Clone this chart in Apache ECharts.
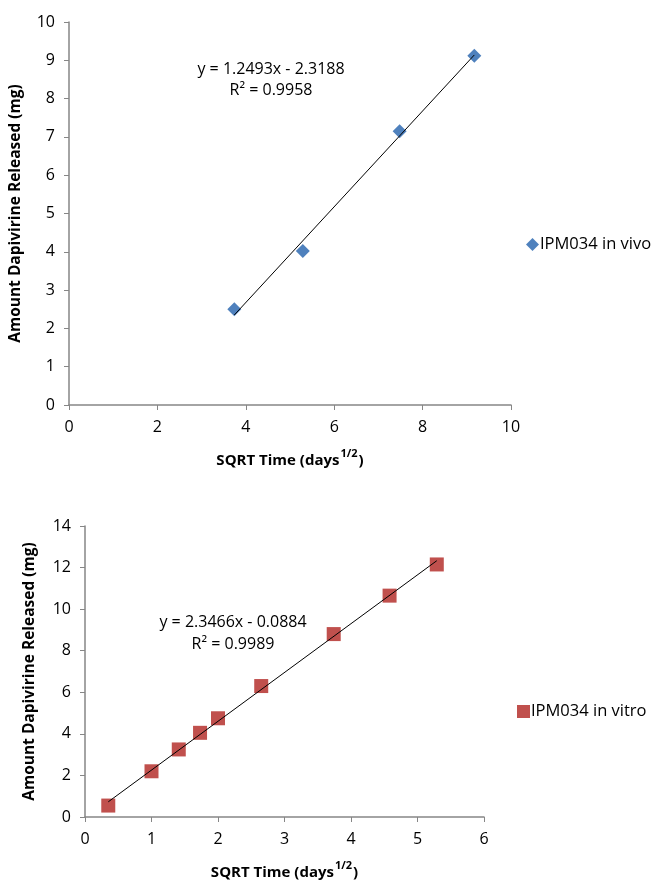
<!DOCTYPE html>
<html><head><meta charset="utf-8">
<script src="https://cdn.jsdelivr.net/npm/echarts@6/dist/echarts.min.js"></script>
<style>html,body{margin:0;padding:0;background:#fff}#c{width:651px;height:881px}</style>
</head><body><div id="c"></div>
<script>
// Top chart: in vivo
const vivoX = [3.74, 5.29, 7.48, 9.17];
const vivoY = [2.50, 4.02, 7.15, 9.12];
const vivoTrend = [[3.74, 2.35], [9.17, 9.14]];
const vivoEq = 'y = 1.2493x - 2.3188';
const vivoR2 = 'R² = 0.9958';
// Bottom chart: in vitro
const vitroX = [0.35, 1.00, 1.41, 1.73, 2.00, 2.65, 3.74, 4.58, 5.29];
const vitroY = [0.55, 2.20, 3.25, 4.05, 4.75, 6.30, 8.80, 10.65, 12.15];
const vitroTrend = [[0.35, 0.73], [5.29, 12.33]];
const vitroEq = 'y = 2.3466x - 0.0884';
const vitroR2 = 'R² = 0.9989';
const yTitle = 'Amount Dapivirine Released (mg)';
const xTitleMain = 'SQRT Time (days';
const xTitleSup = '1/2';

const FONT = 'Open Sans';
const axisLine = {lineStyle:{color:'#868686', width:1.5}};
const axisTick = {show:true, length:5, lineStyle:{color:'#868686'}};
const axisLabel = {color:'#000', fontSize:16, fontFamily:FONT};
const xName = '{b|' + xTitleMain + '}{s|' + xTitleSup + '}{b|)}';
const nameRich = {
  b:{fontWeight:'bold', fontSize:15, fontFamily:FONT, color:'#000', lineHeight:20, verticalAlign:'bottom'},
  s:{fontWeight:'bold', fontSize:11, fontFamily:FONT, color:'#000', lineHeight:20, verticalAlign:'top', padding:[0,1,2,1]}
};
const yNameStyle = {fontWeight:'bold', fontSize:15.5, fontFamily:FONT, color:'#000'};

const chart = echarts.init(document.getElementById('c'), null, {renderer:'canvas'});
chart.setOption({
  animation:false,
  backgroundColor:'#fff',
  grid:[
    {left:69, right:140, top:22, bottom:476},
    {left:85, right:167, top:526, bottom:59}
  ],
  xAxis:[
    {gridIndex:0, type:'value', min:0, max:10, interval:2, axisLine, axisTick, axisLabel:{...axisLabel, margin:14}, splitLine:{show:false},
     name:xName, nameLocation:'middle', nameGap:43, nameTextStyle:{rich:nameRich}},
    {gridIndex:1, type:'value', min:0, max:6, interval:1, axisLine, axisTick, axisLabel:{...axisLabel, margin:14}, splitLine:{show:false},
     name:xName, nameLocation:'middle', nameGap:43, nameTextStyle:{rich:nameRich}}
  ],
  yAxis:[
    {gridIndex:0, type:'value', min:0, max:10, interval:1, axisLine:{show:true,...axisLine}, axisTick, axisLabel:{...axisLabel, margin:14}, splitLine:{show:false},
     name:yTitle, nameLocation:'middle', nameGap:45, nameTextStyle:yNameStyle},
    {gridIndex:1, type:'value', min:0, max:14, interval:2, axisLine:{show:true,...axisLine}, axisTick, axisLabel:{...axisLabel, margin:14}, splitLine:{show:false},
     name:yTitle, nameLocation:'middle', nameGap:47, nameTextStyle:yNameStyle}
  ],
  legend:[
    {data:[{name:'IPM034 in vivo', icon:'diamond'}], left:521, top:231, itemWidth:13, itemHeight:13, itemGap:4,
     textStyle:{color:'#000', fontSize:16.5, fontFamily:FONT, padding:[0,0,0,-4]}},
    {data:[{name:'IPM034 in vitro', icon:'rect'}], left:512, top:698, itemWidth:13, itemHeight:13,
     textStyle:{color:'#000', fontSize:16.5, fontFamily:FONT, padding:[0,0,0,-4]}}
  ],
  series:[
    {name:'trend1', type:'line', xAxisIndex:0, yAxisIndex:0, data:vivoTrend, showSymbol:false, symbol:'none',
     lineStyle:{color:'#000', width:1}, silent:true, z:3},
    {name:'IPM034 in vivo', type:'scatter', xAxisIndex:0, yAxisIndex:0, symbol:'diamond', symbolSize:14,
     data:vivoX.map((x,i)=>[x, vivoY[i]]), itemStyle:{color:'#4F81BD', opacity:1}, z:2},
    {name:'trend2', type:'line', xAxisIndex:1, yAxisIndex:1, data:vitroTrend, showSymbol:false, symbol:'none',
     lineStyle:{color:'#000', width:1}, silent:true, z:3},
    {name:'IPM034 in vitro', type:'scatter', xAxisIndex:1, yAxisIndex:1, symbol:'rect', symbolSize:14,
     data:vitroX.map((x,i)=>[x, vitroY[i]]), itemStyle:{color:'#C0504D', opacity:1}, z:2}
  ],
  graphic:[
    {type:'text', style:{text:vivoEq + '\n' + vivoR2, x:271, y:59, align:'center', verticalAlign:'top',
      font:'16px "Open Sans"', fill:'#000', lineHeight:21}},
    {type:'text', style:{text:vitroEq + '\n' + vitroR2, x:233, y:611, align:'center', verticalAlign:'top',
      font:'16px "Open Sans"', fill:'#000', lineHeight:22}}
  ]
});
</script></body></html>
